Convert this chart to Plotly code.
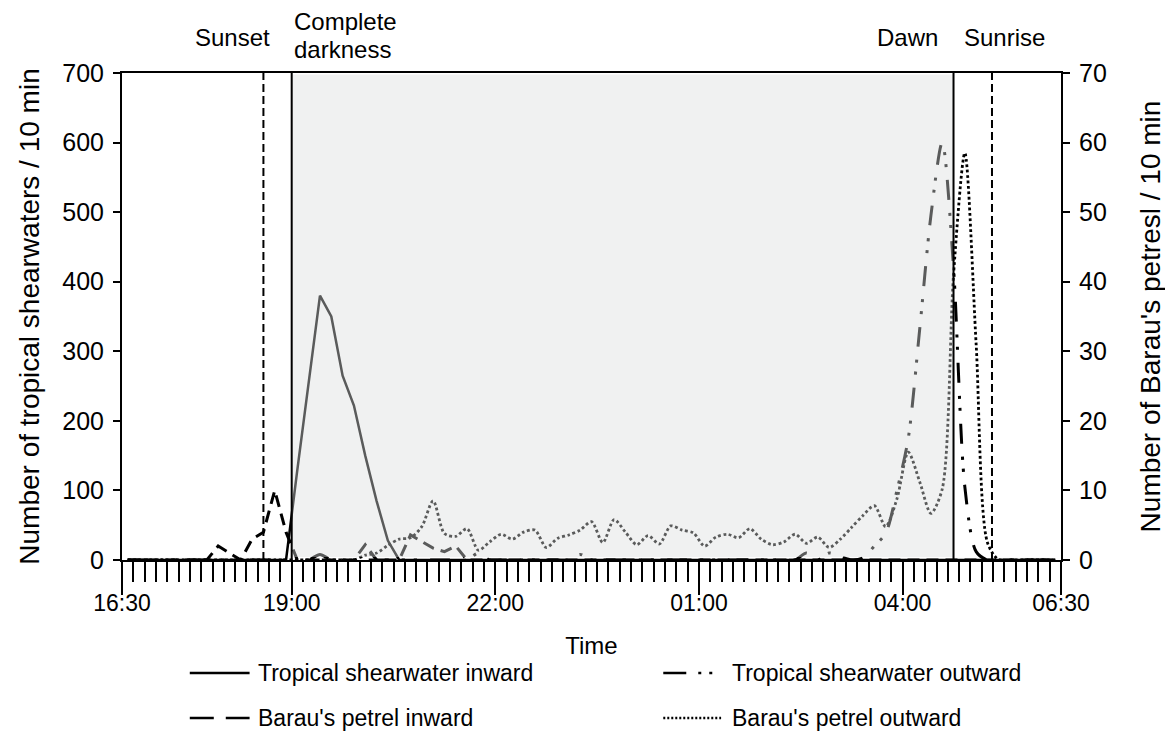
import plotly.graph_objects as go


def mins(t):
    # minutes after 16:30, running past midnight
    h, m = map(int, t.split(":"))
    v = h * 60 + m - 16 * 60 - 30
    return v if v >= 0 else v + 24 * 60


# 10-min counting bins, points sit at the middle of each bin (16:35 ... 06:15)
bin_mid = [5 + 10 * i for i in range(83)]

# left axis: tropical shearwaters / 10 min
ts_inward = [
    0, 0, 0, 0, 0, 0, 0, 0, 0, 0,
    0, 0, 0, 0, 0, 130, 255, 380, 350, 265,
    222, 150, 85, 28, 0, 0, 0, 0, 0, 0,
    0, 0, 0, 0, 0, 0, 0, 0, 0, 0,
    0, 0, 0, 0, 0, 0, 0, 0, 0, 0,
    0, 0, 0, 0, 0, 0, 0, 0, 0, 0,
    0, 0, 0, 0, 0, 0, 0, 0, 0, 0,
    0, 0, 0, 0, 0, 0, 0, 0, 0, 0,
    0, 0, 0,
]
ts_outward = [
    0, 0, 0, 0, 0, 0, 0, 0, 0, 0,
    0, 0, 0, 0, 0, 0, 0, 8, 0, 0,
    0, 0, 0, 0, 0, 0, 0, 0, 0, 0,
    0, 10, 0, 0, 0, 0, 0, 0, 0, 0,
    8, 0, 0, 0, 0, 0, 0, 0, 0, 0,
    0, 0, 0, 0, 0, 0, 0, 0, 0, 0,
    10, 0, 10, 5, 0, 3, 20, 38, 100, 175,
    330, 495, 600, 420, 105, 12, 0, 0, 0, 0,
    0, 0, 0,
]

# right axis: Barau's petrels / 10 min
bp_inward = [
    0, 0, 0, 0, 0, 0, 0, 0, 2, 1,
    0, 3, 4, 10, 4, 0, 0, 0, 0, 0,
    0, 2.2, 0, 0, 0, 3.6, 2.7, 1.7, 1.2, 2,
    0, 0, 0, 0, 0, 0, 0, 0, 0, 0,
    0, 0, 0, 0, 0, 0, 0, 0, 0, 0,
    0, 0, 0, 0, 0, 0, 0, 0, 0, 0,
    0, 0, 0, 0, 0, 0, 0, 0, 0, 0,
    0, 0, 0, 0, 0, 0, 0, 0, 0, 0,
    0, 0, 0,
]
bp_outward = [
    0, 0, 0, 0, 0, 0, 0, 0, 0, 0,
    0, 0, 0, 0, 0, 0, 0, 0, 0, 0,
    0, 0.7, 1.0, 2.1, 3.0, 3.2, 4.8, 8.5, 3.8, 3.4,
    4.5, 1.4, 2.6, 3.7, 3.0, 4.0, 4.3, 1.8, 3.1, 3.6,
    4.3, 5.5, 2.5, 5.8, 4.0, 2.2, 3.5, 2.3, 4.9, 4.3,
    3.9, 2.0, 3.3, 3.7, 3.2, 4.5, 3.0, 2.2, 2.6, 3.7,
    2.4, 3.3, 1.8, 3.0, 4.7, 6.4, 7.8, 4.8, 8.8, 15.5,
    11.3, 6.7, 10.2, 41, 58.5, 31, 2.5, 0, 0, 0,
    0, 0, 0,
]

sunset = mins("18:35")
darkness = mins("19:00")
dawn = mins("04:45")
sunrise = mins("05:19")
x_end = 830  # axis stops at the last bin edge (06:20)

hour_ticks = list(range(30, x_end, 60))
label_pos = {0: "16:30", 150: "19:00", 330: "22:00", 510: "01:00", 690: "04:00", x_end: "06:30"}
tickvals = sorted(set(hour_ticks) | set(label_pos))
ticktext = [label_pos.get(v, "") for v in tickvals]

FONT = "Liberation Sans, Arial, sans-serif"

fig = go.Figure()
fig.add_trace(go.Scatter(x=bin_mid, y=ts_inward, mode="lines", yaxis="y",
                         line=dict(color="black", width=2.5)))
fig.add_trace(go.Scatter(x=bin_mid, y=ts_outward, mode="lines", yaxis="y",
                         line=dict(color="black", width=3, shape="spline", smoothing=0.8,
                                   dash="20px,13px,3px,9px,3px,13px")))
fig.add_trace(go.Scatter(x=bin_mid, y=bp_inward, mode="lines", yaxis="y2",
                         line=dict(color="black", width=3, dash="12px,7px")))
fig.add_trace(go.Scatter(x=bin_mid, y=bp_outward, mode="lines", yaxis="y2",
                         line=dict(color="black", width=2.8, shape="spline", smoothing=0.8,
                                   dash="2.8px,2.6px")))

# night period: translucent grey veil over the lines, as in the original
fig.add_shape(type="rect", xref="x", yref="paper", x0=darkness, x1=dawn, y0=0.0062, y1=0.997,
              fillcolor="rgba(219,222,222,0.41)", line_width=0, layer="above")
for xv in (darkness, dawn):
    fig.add_shape(type="line", xref="x", yref="paper", x0=xv, x1=xv, y0=0, y1=1,
                  line=dict(color="black", width=2), layer="above")
for xv in (sunset, sunrise):
    fig.add_shape(type="line", xref="x", yref="paper", x0=xv, x1=xv, y0=0, y1=1,
                  line=dict(color="black", width=2, dash="8px,4px"), layer="above")


# page pixels -> paper coordinates (plot area spans x 122..1064, y 73..560)
def px_x(p):
    return (p - 122) / 942


def px_y(p):
    return (560 - p) / 487


top_labels = [
    (97.8, 37, "Sunset", "center"),
    (darkness, 22, "Complete", "left"),
    (darkness, 50, "darkness", "left"),
    (694, 37, "Dawn", "center"),
    (780, 37, "Sunrise", "center"),
]
for xv, yy, txt, anc in top_labels:
    fig.add_annotation(x=xv, y=px_y(yy), xref="x", yref="paper", text=txt, showarrow=False,
                       xanchor=anc, yanchor="middle",
                       font=dict(family=FONT, size=24, color="black"))

# legend drawn below the axis, two columns
legend_items = [
    (190, 250, 673, "Tropical shearwater inward", None),
    (665, 716, 673, "Tropical shearwater outward", "23px,12px,3px,8px,3px,30px"),
    (190, 250, 718, "Barau's petrel inward", "24px,12px"),
    (665, 723, 718, "Barau's petrel outward", "2px,2px"),
]
for x0, x1, yy, txt, dash in legend_items:
    fig.add_shape(type="line", xref="paper", yref="paper", x0=px_x(x0), x1=px_x(x1),
                  y0=px_y(yy), y1=px_y(yy),
                  line=dict(color="black", width=2.5, dash=dash or "solid"))
    tx = 256 if x0 < 400 else 732
    fig.add_annotation(x=px_x(tx), y=px_y(yy), xref="paper", yref="paper", text=txt,
                       showarrow=False, xanchor="left", yanchor="middle",
                       font=dict(family=FONT, size=23, color="black"))

axis_common = dict(showline=True, linecolor="black", linewidth=2, ticks="outside",
                   tickcolor="black", tickwidth=2, showgrid=False, zeroline=False)

fig.update_layout(
    # the page body has an 8px margin, so the figure is sized to fill the rest
    width=1165, height=728,
    margin=dict(l=114, r=109, t=65, b=176),
    paper_bgcolor="white", plot_bgcolor="white",
    font=dict(family=FONT, color="black"),
    showlegend=False,
    xaxis=dict(range=[0, x_end], tickmode="array", tickvals=tickvals, ticktext=ticktext,
               ticklen=33, mirror=True, tickfont=dict(size=23), ticklabelstandoff=-12,
               minor=dict(tickvals=list(range(0, x_end + 1, 10)), ticklen=20, tickwidth=2,
                          tickcolor="black", ticks="outside"),
               title=dict(text="Time", font=dict(size=24), standoff=23),
               **axis_common),
    yaxis=dict(range=[0, 700], dtick=100, ticklen=7, tickfont=dict(size=25),
               ticklabelstandoff=4,
               title=dict(text="Number of tropical shearwaters / 10 min",
                          font=dict(size=28), standoff=14),
               **axis_common),
    yaxis2=dict(range=[0, 70], dtick=10, ticklen=7, tickfont=dict(size=25),
                overlaying="y", side="right", ticklabelstandoff=4,
                title=dict(text="Number of Barau's petresl / 10 min",
                           font=dict(size=28), standoff=35),
                **axis_common),
)

fig.write_html("out.html")
